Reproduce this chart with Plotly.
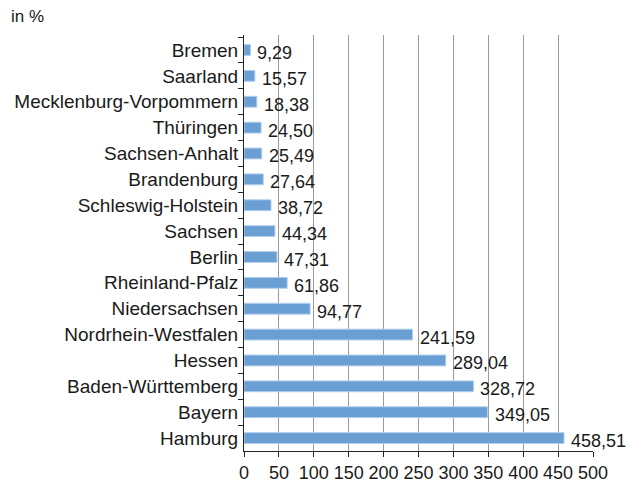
import plotly.graph_objects as go

laender = ["Bremen", "Saarland", "Mecklenburg-Vorpommern", "Thüringen", "Sachsen-Anhalt",
           "Brandenburg", "Schleswig-Holstein", "Sachsen", "Berlin", "Rheinland-Pfalz",
           "Niedersachsen", "Nordrhein-Westfalen", "Hessen", "Baden-Württemberg", "Bayern", "Hamburg"]
werte = [9.29, 15.57, 18.38, 24.50, 25.49, 27.64, 38.72, 44.34, 47.31, 61.86,
         94.77, 241.59, 289.04, 328.72, 349.05, 458.51]
x_ticks = [0, 50, 100, 150, 200, 250, 300, 350, 400, 450, 500]

FONT = "Liberation Sans, Arial, Helvetica, sans-serif"

def fmt(v):
    return f"{v:.2f}".replace(".", ",")

fig = go.Figure(go.Bar(
    x=werte, y=laender, orientation="h",
    marker=dict(color="#6a9fd4", line=dict(color="#b3cfee", width=1)),
    width=0.42,
    hoverinfo="x+y",
))

for v, c in zip(werte, laender):
    fig.add_annotation(x=v, y=c, text=fmt(v), showarrow=False, xanchor="left",
                       yanchor="middle", xshift=5, yshift=-3,
                       font=dict(family=FONT, size=18, color="#1a1a1a"))

fig.add_annotation(x=-0.672, y=1.072, xref="paper", yref="paper", text="in %", showarrow=False,
                   xanchor="left", yanchor="top",
                   font=dict(family=FONT, size=17, color="#1a1a1a"))

# the page body adds an 8px offset; margins compensate so the plot area lands where the reference has it
fig.update_layout(
    width=634, height=484,
    margin=dict(l=236, r=49, t=27, b=41, autoexpand=False),
    paper_bgcolor="white", plot_bgcolor="white",
    showlegend=False,
    font=dict(family=FONT, size=18, color="#1a1a1a"),
    bargap=0.58,
)
fig.update_xaxes(range=[0, 500], tickvals=x_ticks, ticktext=[str(t) for t in x_ticks],
                 showgrid=True, gridcolor="#9a9a9a", gridwidth=1,
                 showline=True, linecolor="#222", linewidth=1,
                 ticks="outside", ticklen=5, tickcolor="#222",
                 zeroline=False, fixedrange=True, automargin=False,
                 tickfont=dict(family=FONT, size=18))
fig.update_yaxes(autorange="reversed", type="category",
                 showline=True, linecolor="#222", linewidth=1,
                 ticks="outside", ticklen=5, tickcolor="#222", tickson="boundaries",
                 showgrid=False, fixedrange=True, ticklabelstandoff=1, automargin=False,
                 tickfont=dict(family=FONT, size=19))

fig.write_html("out.html")
